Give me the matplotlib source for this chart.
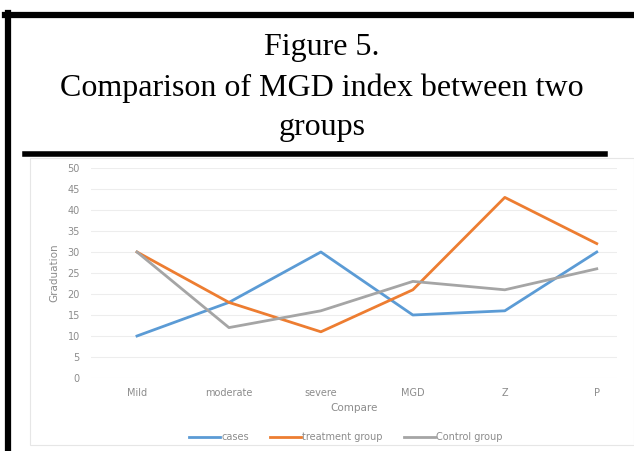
import matplotlib.pyplot as plt
from matplotlib.lines import Line2D
from matplotlib.patches import Rectangle

categories = ['Mild', 'moderate', 'severe', 'MGD', 'Z', 'P']
cases = [10, 18, 30, 15, 16, 30]
treatment = [30, 18, 11, 21, 43, 32]
control = [30, 12, 16, 23, 21, 26]
yticks = [0, 5, 10, 15, 20, 25, 30, 35, 40, 45, 50]

W, H = 634, 451
fig = plt.figure(figsize=(W / 100, H / 100), dpi=100)

def fx(px):
    return px / W

def fy(py):
    return 1 - py / H

# page frame and title rule
fig.add_artist(Line2D([fx(5), fx(634)], [fy(15), fy(15)], color='black', lw=4.5))
fig.add_artist(Line2D([fx(7.5), fx(7.5)], [fy(13), fy(451)], color='black', lw=4.5))
fig.add_artist(Line2D([fx(25), fx(605)], [fy(153.5), fy(153.5)], color='black', lw=4))
fig.add_artist(Rectangle((fx(30), fy(445)), fx(634) - fx(30), fy(158) - fy(445),
                         transform=fig.transFigure, fill=False, edgecolor='#e6e6e6', lw=0.8))

title_font = dict(family='Liberation Serif', size=23, ha='center', va='center', color='black')
fig.text(fx(322), fy(47), 'Figure 5.', **title_font)
fig.text(fx(322), fy(88), 'Comparison of MGD index between two', **title_font)
fig.text(fx(322), fy(128), 'groups', **title_font)

ax = fig.add_axes([fx(91), fy(378), fx(617) - fx(91), fy(168) - fy(378)])
x = list(range(len(categories)))
ax.plot(x, cases, color='#5b9bd5', lw=2, label='cases')
ax.plot(x, treatment, color='#ed7d31', lw=2, label='treatment group')
ax.plot(x, control, color='#a5a5a5', lw=2, label='Control group')

ax.set_ylim(0, 50)
ax.set_xlim(-0.5, 5.22)
ax.set_yticks(yticks)
ax.set_xticks(x)
ax.set_xticklabels(categories)
ax.grid(axis='y', color='#ededed', lw=0.8)
ax.set_axisbelow(True)
for s in ax.spines.values():
    s.set_visible(False)
ax.tick_params(length=0, labelsize=7, labelcolor='#8c8c8c', pad=8)
ax.tick_params(axis='x', pad=7)
ax.set_ylabel('Graduation', fontsize=7.5, color='#8c8c8c', labelpad=6)
ax.set_xlabel('Compare', fontsize=7.5, color='#8c8c8c', labelpad=4)

fig.legend(loc='center', bbox_to_anchor=(fx(346), fy(437)), ncol=3, frameon=False,
           fontsize=7, labelcolor='#8c8c8c', handlelength=3.2, handletextpad=0.1,
           columnspacing=2.2)

fig.savefig('out.png', dpi=100)
